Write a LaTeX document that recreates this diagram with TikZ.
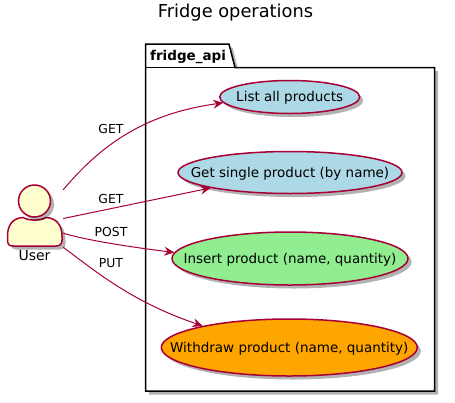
\documentclass[tikz,border=0pt]{standalone}
\usepackage{fontspec}
\setmainfont{DejaVu Sans}
\usetikzlibrary{arrows.meta,shapes.geometric,shadows}
\definecolor{umlred}{HTML}{A80036}
\definecolor{umlcream}{HTML}{FEFECE}
\definecolor{umlblue}{HTML}{ADD8E6}
\definecolor{umlgreen}{HTML}{90EE90}
\definecolor{umlorange}{HTML}{FFA500}
\tikzset{
  softshadow/.style={drop shadow={shadow xshift=3.5pt,shadow yshift=-3.5pt,fill=black,opacity=.3}},
  usecase/.style={ellipse,draw=umlred,line width=1.5pt,inner sep=0pt,softshadow},
  casetext/.style={inner sep=0pt,yshift=-1pt,text=black,font=\fontsize{13.5}{16}\selectfont},
  actorpart/.style={draw=umlred,line width=1.5pt,fill=umlcream,softshadow},
  verb/.style={inner sep=0pt,font=\fontsize{12.4}{14}\selectfont},
  flow/.style={draw=umlred,line width=1pt,-{Stealth[length=10pt,width=9pt,inset=3.5pt]}}
}
\begin{document}
\begin{tikzpicture}[x=1pt,y=-1pt]
\useasboundingbox (0,0) rectangle (455,402);
\node[font=\fontsize{17.8}{20}\selectfont] (title) at (235.5,12.5) {Fridge operations};
% package
\draw[black,line width=1.5pt,fill=white,softshadow] (145.5,67.5) -- (145.5,44) -- (229,44) -- (235,67.5) -- (434.5,67.5) -- (434.5,391) -- (145.5,391) -- cycle;
\draw[black,line width=1.5pt] (145.5,67.5) -- (235,67.5);
\node[anchor=west,inner sep=0pt,font=\fontsize{13.5}{16}\selectfont\bfseries] (pkg) at (150,57) {fridge\_api};
% use cases
\node[usecase,fill=umlblue,minimum width=140pt,minimum height=33pt,label={[casetext]center:List all products}] (list) at (289.7,97) {};
\node[usecase,fill=umlblue,minimum width=224pt,minimum height=42pt,label={[casetext]center:Get single product (by name)}] (single) at (290,172.5) {};
\node[usecase,fill=umlgreen,minimum width=236pt,minimum height=53pt,label={[casetext]center:Insert product (name, quantity)}] (insert) at (290,258.5) {};
\node[usecase,fill=umlorange,minimum width=256pt,minimum height=57pt,label={[casetext]center:Withdraw product (name, quantity)}] (withdraw) at (289.3,347.5) {};
% actor
\draw[actorpart] (7.5,236) .. controls (7.5,226) and (12,218) .. (23,217.5) .. controls (29,221) and (40,221) .. (46,217.5) .. controls (57,218) and (62,226) .. (62,236) -- (62,240) .. controls (62,244) and (60,246) .. (56,246) -- (13,246) .. controls (9,246) and (7.5,244) .. (7.5,240) -- cycle;
\node[circle,actorpart,minimum size=32pt,inner sep=0pt] (head) at (34.5,201) {};
\node[inner sep=0pt,font=\fontsize{14}{16}\selectfont] (userlabel) at (34.5,255) {User};
\node[minimum width=57pt,minimum height=57pt,inner sep=0pt] (user) at (34.5,218.5) {};
% connectors
\draw[flow] (user.north east) .. controls (105,140) and (150,113) .. (list.185);
\draw[flow] (user.east) -- (single.191);
\draw[flow] (user.-27) .. controls (85,240) and (130,247) .. (insert.177);
\draw[flow] (user.south east) .. controls (100,275) and (135,303) .. (withdraw.166);
\foreach \n/\y/\t in {a/129/GET,b/199/GET,c/232/POST,d/263/PUT}{\node[verb] (verb\n) at (111,\y) {\t};}
\end{tikzpicture}
\end{document}
